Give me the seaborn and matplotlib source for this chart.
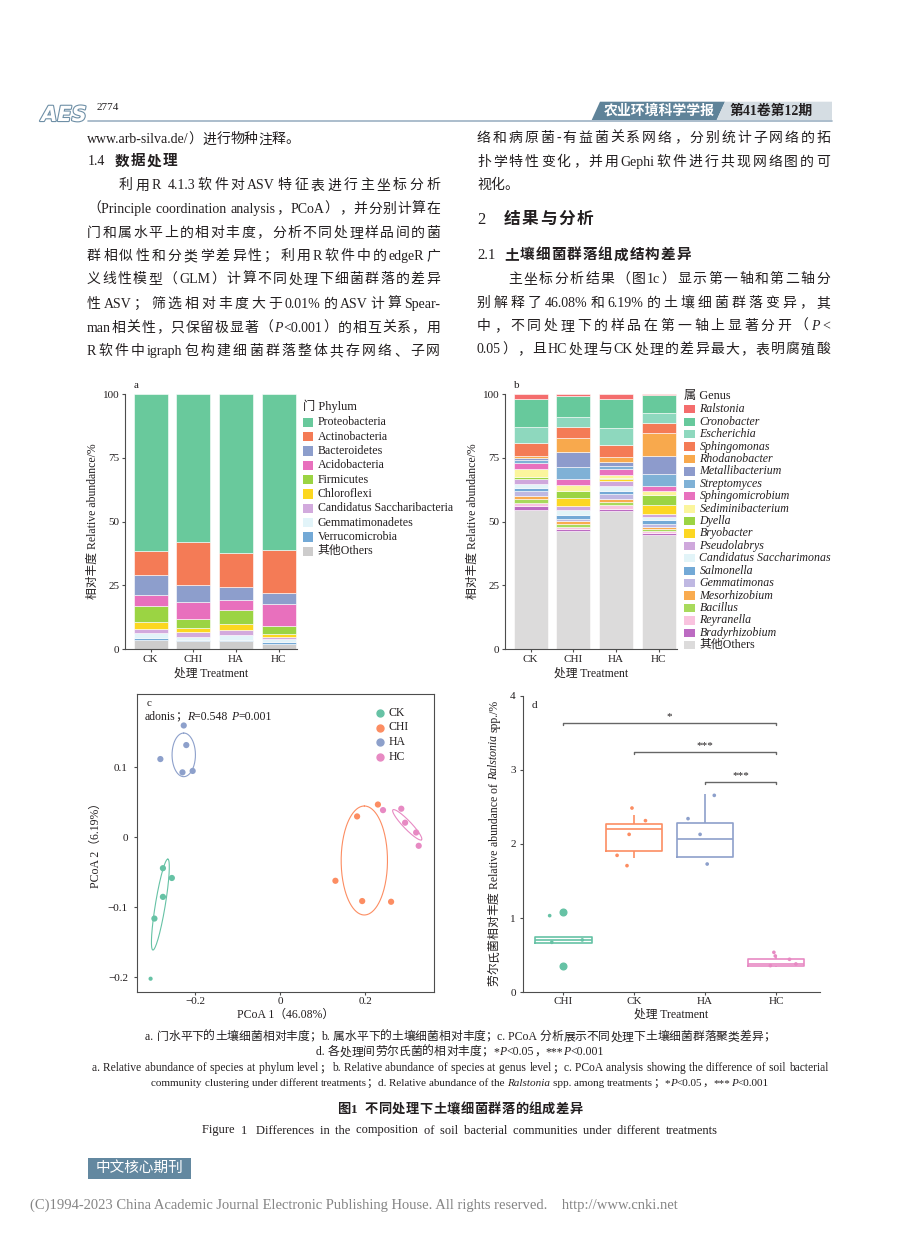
import re
import numpy as np
import pandas as pd
import matplotlib
matplotlib.use("Agg")
import matplotlib.pyplot as plt
import matplotlib.patheffects as pe
from matplotlib.patches import Polygon, Rectangle
from matplotlib.lines import Line2D
import seaborn as sns

W, H = 920, 1240
INK = "#231f20"

# ---------------- data ----------------
treatments = ["CK", "CHI", "HA", "HC"]

# a. phylum level (%), stacked from top (first) to bottom (last)
phyla = ["Proteobacteria", "Actinobacteria", "Bacteroidetes", "Acidobacteria",
         "Firmicutes", "Chloroflexi", "Candidatus Saccharibacteria",
         "Gemmatimonadetes", "Verrucomicrobia", "其他Others"]
phylum_colors = ["#69C99C", "#F47B56", "#8D9ECC", "#E870BD", "#9BD443",
                 "#FCD720", "#D2AADD", "#E2F4F9", "#73A9D6", "#CDCCCC"]
phylum_CK = [61.5, 9.5, 7.9, 4.1, 6.4, 2.6, 1.6, 2.0, 0.6, 3.8]
phylum_CHI = [58.1, 16.8, 6.4, 7.0, 3.5, 1.4, 2.0, 1.0, 0.5, 3.3]
phylum_HA = [62.4, 13.1, 5.0, 4.1, 5.3, 2.5, 2.0, 1.8, 0.5, 3.3]
phylum_HC = [61.0, 16.8, 4.3, 8.6, 3.3, 1.3, 0.8, 0.9, 0.8, 2.2]

# b. genus level (%)
genera = ["Ralstonia", "Cronobacter", "Escherichia", "Sphingomonas", "Rhodanobacter",
          "Metallibacterium", "Streptomyces", "Sphingomicrobium", "Sediminibacterium",
          "Dyella", "Bryobacter", "Pseudolabrys", "Candidatus Saccharimonas",
          "Salmonella", "Gemmatimonas", "Mesorhizobium", "Bacillus", "Reyranella",
          "Bradyrhizobium", "其他Others"]
genus_colors = ["#F46D6D", "#67C99C", "#8ED8BE", "#F47B56", "#F8A94D",
                "#8D9BCC", "#7FB1D6", "#E871BE", "#FBF59D", "#9BD443",
                "#FCD723", "#CFA8DC", "#E2F4F8", "#73A9D6", "#BFB8E2",
                "#F9AB4F", "#A8DA5C", "#F9C3DF", "#BC6BC2", "#DCDBDB"]
genus_CK = [2.1, 10.8, 6.4, 5.1, 0.8, 0.7, 1.2, 2.3, 3.0, 0.7,
            0.3, 1.8, 1.7, 1.2, 1.7, 1.4, 1.6, 1.2, 1.4, 54.6]
genus_CHI = [0.6, 8.4, 3.9, 4.3, 5.5, 6.0, 4.7, 2.3, 2.3, 2.9,
             2.9, 1.6, 1.8, 1.6, 0.9, 1.2, 1.2, 0.7, 1.0, 46.2]
genus_HA = [2.1, 11.2, 6.8, 4.6, 2.0, 1.4, 1.3, 2.3, 1.2, 0.5,
            0.8, 2.0, 1.8, 1.0, 2.0, 1.3, 1.3, 1.4, 1.0, 54.0]
genus_HC = [0.4, 7.0, 3.8, 4.2, 8.7, 7.2, 4.6, 2.1, 1.6, 4.0,
            3.4, 1.3, 0.9, 1.7, 1.0, 1.1, 0.8, 0.8, 0.6, 44.8]

# c. PCoA scores
pcoa_order = ["CK", "CHI", "HA", "HC"]
pcoa_colors = ["#66C2A5", "#FC8D62", "#8DA0CB", "#E78AC3"]
pcoa_group = ["CK"] * 5 + ["CHI"] * 5 + ["HA"] * 5 + ["HC"] * 5
pcoa_x = [-0.276, -0.255, -0.276, -0.296, -0.305,
          0.230, 0.181, 0.130, 0.193, 0.261,
          -0.227, -0.221, -0.282, -0.230, -0.206,
          0.242, 0.285, 0.294, 0.320, 0.326]
pcoa_y = [-0.044, -0.058, -0.085, -0.116, -0.202,
          0.047, 0.030, -0.062, -0.091, -0.092,
          0.160, 0.132, 0.112, 0.093, 0.095,
          0.039, 0.041, 0.021, 0.007, -0.012]
pcoa_dot = ["big"] * 4 + ["small"] + ["big"] * 15

# confidence ellipses: centre and two conjugate semi-axes (data units)
ell_group = ["CK", "CHI", "HA", "HC"]
ell_cx = [-0.282, 0.198, -0.227, 0.299]
ell_cy = [-0.096, -0.033, 0.118, 0.018]
ell_ux = [0.0176, 0.0, 0.0, 0.0337]
ell_uy = [0.065, 0.0779, 0.0312, -0.0214]
ell_vx = [0.0115, 0.0545, 0.0275, 0.0068]
ell_vy = [-0.0011, 0.0, 0.0, 0.0040]

# d. Ralstonia relative abundance (%)
ral_order = ["CHI", "CK", "HA", "HC"]
ral_colors = ["#66C2A5", "#FC8D62", "#8DA0CB", "#E78AC3"]
ral_CHI = [0.36, 0.67, 0.70, 0.74, 1.08]
ral_CK = [1.81, 1.90, 2.20, 2.27, 2.39]
ral_HA = [1.83, 1.83, 2.07, 2.28, 2.67]
ral_HC = [0.34, 0.35, 0.38, 0.45, 0.47]
jit_group = ["CHI"] * 5 + ["CK"] * 5 + ["HA"] * 4 + ["HC"] * 5
jit_dx = [-0.19, -0.16, 0.27, 0.0, 0.0,
          -0.03, 0.16, -0.07, -0.24, -0.10,
          -0.24, -0.07, 0.13, 0.03,
          -0.03, -0.01, 0.19, 0.28, -0.08]
jit_y = [1.034, 0.674, 0.706, 1.08, 0.36,
         2.485, 2.315, 2.13, 1.847, 1.708,
         2.342, 2.13, 2.656, 1.730,
         0.539, 0.49, 0.445, 0.382, 0.36]
sig_from = [0, 1, 2]
sig_to = [3, 3, 3]
sig_y = [3.636, 3.24, 2.836]
sig_text = ["*", "***", "***"]

# ---------------- style ----------------
sns.set_theme(style="ticks")
plt.rcParams.update({
    "font.family": ["Liberation Serif", "Noto Sans CJK SC"],
    "font.size": 8,
    "axes.edgecolor": "#4d4d4d",
    "axes.linewidth": 0.8,
    "axes.labelcolor": INK,
    "axes.labelsize": 8.5,
    "xtick.color": "#4d4d4d",
    "ytick.color": "#4d4d4d",
    "xtick.labelcolor": INK,
    "ytick.labelcolor": INK,
    "xtick.labelsize": 8,
    "ytick.labelsize": 8,
    "xtick.major.size": 2.5,
    "ytick.major.size": 2.5,
    "xtick.major.width": 0.8,
    "ytick.major.width": 0.8,
    "xtick.major.pad": 1.5,
    "ytick.major.pad": 1.5,
    "axes.unicode_minus": True,
})

fig = plt.figure(figsize=(9.2, 12.4), dpi=100, facecolor="white")
renderer = fig.canvas.get_renderer()


def fx(x):
    return x / W


def fy(y):
    return 1 - y / H


def add_axes_px(left, top, right, bottom):
    return fig.add_axes([fx(left), fy(bottom), (right - left) / W, (bottom - top) / H])


# ---------------- rich text helpers (mixed CJK / italic latin) ----------------
_wcache = {}


def tok_width(s, size, style, weight):
    key = (s, size, style, weight)
    if key not in _wcache:
        a = fig.text(0, 0, "I" + s + "I", fontsize=size, fontstyle=style, fontweight=weight)
        b = fig.text(0, 0, "II", fontsize=size, fontstyle=style, fontweight=weight)
        w = a.get_window_extent(renderer).width - b.get_window_extent(renderer).width
        a.remove()
        b.remove()
        _wcache[key] = w
    return _wcache[key]


def tokens_of(line):
    # {..} marks italic; latin words keep their trailing space
    out = []
    for part in re.split(r"(\{[^}]*\})", line):
        if not part:
            continue
        if part.startswith("{"):
            out.append((part[1:-1], "italic"))
        else:
            out += [(tk, "normal") for tk in re.findall(r"[!-~]+ *| +|.", part)]
    return out


def rich(x, y, line, size, weight="normal", ha="left", width=None,
         color=INK, rotate=False):
    toks = tokens_of(line)
    ws = [tok_width(s, size, st, weight) for s, st in toks]
    total = sum(ws)
    gap = 0.0
    if width is not None and len(toks) > 1 and width > total:
        gap = (width - total) / (len(toks) - 1)
        total = width
    start = -total / 2 if ha == "center" else 0.0
    base = 0.36 * size * 100 / 72
    pos = start
    for (s, st), w in zip(toks, ws):
        if not s.isspace():
            if rotate:
                fig.text(fx(x + base), fy(y - pos), s, rotation=90, rotation_mode="anchor",
                         ha="left", va="baseline", fontsize=size, fontstyle=st,
                         fontweight=weight, color=color)
            else:
                fig.text(fx(x + pos), fy(y + base), s, ha="left", va="baseline",
                         fontsize=size, fontstyle=st, fontweight=weight, color=color)
        pos += w + gap


def patch_legend(x, y0, step, names, colors, title, title_y, size, italic, pw, ph):
    fig.text(fx(x), fy(title_y), title, fontsize=size + 0.2, va="center", color=INK)
    for k, (n, c) in enumerate(zip(names, colors)):
        yy = y0 + k * step
        fig.add_artist(Rectangle((fx(x), fy(yy + ph / 2)), pw / W, ph / H,
                                 transform=fig.transFigure, facecolor=c, edgecolor="none"))
        style = "italic" if italic and n != "其他Others" else "normal"
        fig.text(fx(x + pw + 4.5), fy(yy), n, fontsize=size, fontstyle=style,
                 va="center", color=INK)


# ---------------- panels a & b: stacked composition ----------------
def stacked_panel(ax, names, colors, tables):
    rows = []
    for i, vals in enumerate(tables):
        for name, v in zip(names, vals):
            rows.append((i, name, v))
    df = pd.DataFrame(rows, columns=["pos", "taxon", "value"])
    sns.histplot(data=df, x="pos", weights="value", hue="taxon", hue_order=names,
                 palette=colors, multiple="stack", discrete=True, shrink=0.8,
                 alpha=1, edgecolor="white", linewidth=0.4, legend=False, ax=ax)
    ax.set_xlim(-0.6, 3.43)
    ax.set_ylim(0, 100)
    ax.set_xticks(range(len(treatments)), treatments)
    ax.set_yticks([0, 25, 50, 75, 100])
    ax.set_xlabel("处理 Treatment", labelpad=2.5)
    ax.set_ylabel("相对丰度 Relative abundance/%", labelpad=3)
    sns.despine(ax=ax)


axa = add_axes_px(125, 394, 297, 649.3)
stacked_panel(axa, phyla, phylum_colors, [phylum_CK, phylum_CHI, phylum_HA, phylum_HC])
fig.text(fx(134), fy(386), "a", fontsize=8, va="center", color=INK)
patch_legend(302.7, 422.3, 14.33, phyla, phylum_colors, "门 Phylum", 406.7, 8.6, False, 10.6, 9.3)

axb = add_axes_px(505, 394, 677, 649.3)
stacked_panel(axb, genera, genus_colors, [genus_CK, genus_CHI, genus_HA, genus_HC])
fig.text(fx(514), fy(386), "b", fontsize=8, va="center", color=INK)
patch_legend(684, 409.3, 12.42, genera, genus_colors, "属 Genus", 396, 8.6, True, 11, 8.3)

# ---------------- panel c: PCoA ----------------
axc = add_axes_px(137, 694, 434, 992)
dfc = pd.DataFrame({"group": pcoa_group, "x": pcoa_x, "y": pcoa_y, "dot": pcoa_dot})
sns.scatterplot(data=dfc, x="x", y="y", hue="group", hue_order=pcoa_order,
                palette=pcoa_colors, size="dot", sizes={"big": 20, "small": 9},
                linewidth=0, legend=False, ax=axc)
t = np.linspace(0, 2 * np.pi, 240)
for g, cx, cy, ux, uy, vx, vy in zip(ell_group, ell_cx, ell_cy, ell_ux, ell_uy, ell_vx, ell_vy):
    col = pcoa_colors[pcoa_order.index(g)]
    axc.plot(cx + ux * np.cos(t) + vx * np.sin(t), cy + uy * np.cos(t) + vy * np.sin(t),
             color=col, lw=0.8)
axc.set_xlim(-0.337, 0.362)
axc.set_ylim(-0.221, 0.205)
axc.set_xticks([-0.2, 0, 0.2], ["\u22120.2", "0", "0.2"])
axc.set_yticks([-0.2, -0.1, 0, 0.1], ["\u22120.2", "\u22120.1", "0", "0.1"])
axc.tick_params(axis="y", pad=4)
axc.tick_params(axis="x", pad=1)
axc.set_xlabel("PCoA 1（46.08%）", labelpad=2)
axc.set_ylabel("PCoA 2（6.19%）", labelpad=4)
fig.text(fx(146.7), fy(704), "c", fontsize=8, va="center", color=INK)
rich(145, 716, "adonis；{R}=0.548 {P}=0.001", 8.5)
for k, (g, col) in enumerate(zip(pcoa_order, pcoa_colors)):
    yy = 713 + k * 14.5
    fig.add_artist(Line2D([fx(380)], [fy(yy)], marker="o", markersize=5, color=col,
                          linestyle="none", transform=fig.transFigure))
    fig.text(fx(388.5), fy(yy), g, fontsize=8.5, va="center", color=INK)

# ---------------- panel d: Ralstonia boxplot ----------------
axd = add_axes_px(522.7, 695.7, 820, 992.3)
rows = []
for g, vals in zip(ral_order, [ral_CHI, ral_CK, ral_HA, ral_HC]):
    rows += [(g, v) for v in vals]
dfd = pd.DataFrame(rows, columns=["group", "value"])
sns.boxplot(data=dfd, x="group", y="value", hue="group", order=ral_order,
            hue_order=ral_order, palette=ral_colors, fill=False, width=0.8,
            linewidth=1.2, whis=1.5, showcaps=False,
            flierprops={"marker": "o", "markersize": 4.8},
            legend=False, ax=axd)
for cont, col in zip(axd.containers, ral_colors):
    fls = cont.fliers if isinstance(cont.fliers, list) else [cont.fliers]
    for fl in fls:
        fl.set_markerfacecolor(col)
        fl.set_markeredgecolor(col)
jit_x = [ral_order.index(g) + dx for g, dx in zip(jit_group, jit_dx)]
sns.scatterplot(x=jit_x, y=jit_y, hue=jit_group, hue_order=ral_order, palette=ral_colors,
                s=7, linewidth=0, legend=False, ax=axd)
for a, b, yv, lab in zip(sig_from, sig_to, sig_y, sig_text):
    axd.plot([a, a, b, b], [yv - 0.03, yv, yv, yv - 0.03], color="#666666", lw=1.0)
    axd.text((a + b) / 2, yv + 0.02, lab, ha="center", va="bottom", fontsize=8, color=INK)
axd.set_xlim(-0.57, 3.62)
axd.set_ylim(0, 4)
axd.set_yticks([0, 1, 2, 3, 4])
axd.tick_params(axis="y", pad=2.5)
axd.tick_params(axis="x", pad=1)
axd.set_xlabel("处理 Treatment", labelpad=1.5)
axd.set_ylabel("")
sns.despine(ax=axd)
fig.text(fx(531.7), fy(705), "d", fontsize=8, va="center", color=INK)
rich(493.3, 843, "劳尔氏菌相对丰度 Relative abundance of {Ralstonia} spp./%", 8.5,
     ha="center", rotate=True)

# ---------------- page furniture ----------------
fig.text(fx(64), fy(115), "AES", fontsize=15, fontstyle="italic", fontweight="bold",
         family="DejaVu Sans", color="white", ha="center", va="center",
         path_effects=[pe.withStroke(linewidth=1.6, foreground="#6E8FA6")])
fig.text(fx(97), fy(107), "2774", fontsize=8, va="center", color=INK)
fig.add_artist(Line2D([fx(88), fx(832)], [fy(120.5), fy(120.5)], color="#9DB2C4",
                      lw=1.2, transform=fig.transFigure))
fig.add_artist(Polygon([(fx(591.7), fy(120)), (fx(600), fy(101.7)), (fx(725), fy(101.7)),
                        (fx(716.7), fy(120))], closed=True, transform=fig.transFigure,
                       facecolor="#5F8399", edgecolor="none"))
fig.add_artist(Polygon([(fx(716.7), fy(120)), (fx(725), fy(101.7)), (fx(832), fy(101.7)),
                        (fx(832), fy(120))], closed=True, transform=fig.transFigure,
                       facecolor="#D5DDE3", edgecolor="none"))
fig.text(fx(659), fy(111), "农业环境科学学报", fontsize=10, fontweight="bold",
         color="white", ha="center", va="center")
fig.text(fx(771), fy(111), "第41卷第12期", fontsize=10, fontweight="bold",
         color=INK, ha="center", va="center")

body = [
    (87, 138.3, "www.arb-silva.de/）进行物种注释。", None),
    (119, 184.3, "利用R 4.1.3软件对ASV特征表进行主坐标分析", 321),
    (87, 207.7, "（Principle coordination analysis，PCoA），并分别计算在", 353),
    (87, 231.7, "门和属水平上的相对丰度，分析不同处理样品间的菌", 353),
    (87, 255.0, "群相似性和分类学差异性；利用R软件中的edgeR广", 353),
    (87, 278.3, "义线性模型（GLM）计算不同处理下细菌群落的差异", 353),
    (87, 302.7, "性ASV；筛选相对丰度大于0.01%的ASV计算Spear-", 353),
    (87, 326.7, "man相关性，只保留极显著（{P}<0.001）的相互关系，用", 353),
    (87, 350.0, "R软件中igraph包构建细菌群落整体共存网络、子网", 353),
    (477, 136.7, "络和病原菌-有益菌关系网络，分别统计子网络的拓", 353),
    (477, 160.7, "扑学特性变化，并用Gephi软件进行共现网络图的可", 353),
    (477, 184.3, "视化。", None),
    (508, 278.3, "主坐标分析结果（图1c）显示第一轴和第二轴分", 322),
    (477, 301.7, "别解释了46.08%和6.19%的土壤细菌群落变异，其", 353),
    (477, 325.0, "中，不同处理下的样品在第一轴上显著分开（{P}<", 353),
    (477, 348.3, "0.05），且HC处理与CK处理的差异最大，表明腐殖酸", 353),
]
for x, y, line, wd in body:
    rich(x, y, line, 10, width=wd)

rich(88, 160, "1.4", 10)
rich(115, 160, "数据处理", 10.5, weight="bold", width=62)
rich(477, 218.3, "2", 12)
rich(504, 218.3, "结果与分析", 12, weight="bold", width=89)
rich(477, 254, "2.1", 10.5)
rich(504, 254, "土壤细菌群落组成结构差异", 10.5, weight="bold", width=187)

caption = [
    (1036, "a. 门水平下的土壤细菌相对丰度；b. 属水平下的土壤细菌相对丰度；c. PCoA 分析展示不同处理下土壤细菌群落聚类差异；", 8.5, "normal", 625),
    (1051, "d. 各处理间劳尔氏菌的相对丰度；*{P}<0.05，***{P}<0.001", 8.5, "normal", 288),
    (1067, "a. Relative abundance of species at phylum level；b. Relative abundance of species at genus level；c. PCoA analysis showing the difference of soil bacterial", 8.3, "normal", 736),
    (1082, "community clustering under different treatments；d. Relative abundance of the {Ralstonia} spp. among treatments；*{P}<0.05，***{P}<0.001", 8, "normal", 617),
    (1108, "图1  不同处理下土壤细菌群落的组成差异", 9.5, "bold", 245),
    (1129, "Figure 1  Differences in the composition of soil bacterial communities under different treatments", 9, "normal", 515),
]
for y, line, size, weight, span in caption:
    rich(460, y, line, size, weight=weight, ha="center", width=span)

fig.add_artist(Rectangle((fx(88), fy(1179)), 103 / W, 21 / H, transform=fig.transFigure,
                         facecolor="#6388A0", edgecolor="none"))
fig.text(fx(139.5), fy(1168.5), "中文核心期刊", fontsize=10.5, color="white",
         ha="center", va="center")
fig.text(fx(30), fy(1205), "(C)1994-2023 China Academic Journal Electronic Publishing House. "
         "All rights reserved.    http://www.cnki.net", fontsize=10.5, color="#858585",
         va="center")

fig.savefig("out.png", dpi=100, facecolor="white")
